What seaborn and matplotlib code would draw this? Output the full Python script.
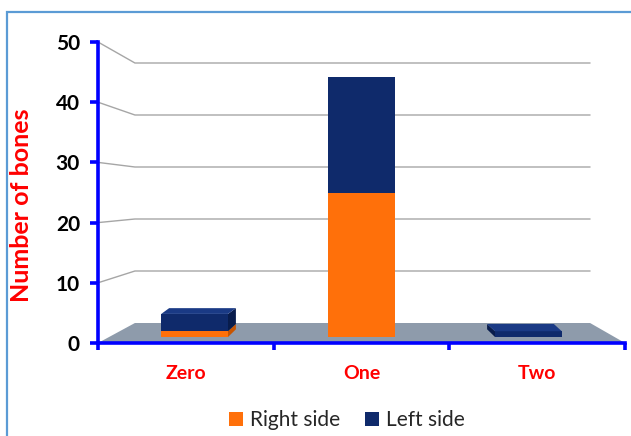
import matplotlib
matplotlib.use("Agg")
import matplotlib.pyplot as plt
from matplotlib.patches import Polygon, Rectangle, Patch
import pandas as pd
import seaborn as sns

# ---- data ----
categories = ["Zero", "One", "Two"]
right_side = [1, 25, 0]
left_side = [3, 20, 1]
series_names = ["Right side", "Left side"]
y_ticks = [0, 10, 20, 30, 40, 50]

ORANGE = "#FF700A"
ORANGE_DARK = "#C85400"
NAVY = "#0F2A6B"
NAVY_TOP = "#1A3A85"
NAVY_DARK = "#081C4C"
FLOOR = "#8E9BAB"
GRID = "#A6A6A6"
AXIS_BLUE = "#0000FF"
RED = "#FF0000"

sns.set_theme(style="white")
plt.rcParams["font.family"] = ["Lato", "DejaVu Sans"]

W, H = 631, 436
fig = plt.figure(figsize=(W / 100, H / 100), dpi=100)
fig.patch.set_facecolor("white")

# axes rectangle (front plane of the 3-D box)
left_px, right_px, top_px, bottom_px = 98, 625, 42, 343
rect = [left_px / W, (H - bottom_px) / H, (right_px - left_px) / W, (bottom_px - top_px) / H]

ax = fig.add_axes(rect)
ax.set_facecolor("none")
ax.set_xlim(-0.5, 2.5)
ax.set_ylim(0, 50)

# back wall: the gridlines sit deeper, so they are compressed and raised
px_per_unit_front = (bottom_px - top_px) / 50.0
back_floor_px, back_px_per_unit = 20.0, 5.2
x_back_left = -0.5 + (135 - left_px) / 176.0
x_back_right = -0.5 + (591 - left_px) / 176.0


def back_value(v):
    return (back_floor_px + back_px_per_unit * v) / px_per_unit_front


# floor
floor = Polygon([(-0.5, 0), (x_back_left, back_value(0)), (x_back_right, back_value(0)), (2.5, 0)],
                closed=True, facecolor=FLOOR, edgecolor="none", zorder=1)
ax.add_patch(floor)

for v in y_ticks[1:]:
    vb = back_value(v)
    ax.plot([-0.5, x_back_left, x_back_right], [v, vb, vb], color=GRID, lw=1.0, zorder=0.5)

# axis styling
for s in ["top", "right"]:
    ax.spines[s].set_visible(False)
for s in ["left", "bottom"]:
    ax.spines[s].set_color(AXIS_BLUE)
    ax.spines[s].set_linewidth(2.6)
    ax.spines[s].set_zorder(5)

ax.set_yticks(y_ticks)
ax.set_yticklabels([str(t) for t in y_ticks], fontweight="bold", fontsize=15, color="black")
ax.tick_params(axis="y", direction="out", length=6, width=2.6, color=AXIS_BLUE, pad=7, left=True)

ax.set_xticks([-0.5, 0.5, 1.5, 2.5])
ax.set_xticklabels([])
ax.set_xticks([0, 1, 2], minor=True)
ax.set_xticklabels(categories, minor=True, fontweight="bold", fontsize=14, color=RED)
ax.tick_params(axis="x", which="major", direction="out", length=5, width=2.6, color=AXIS_BLUE, bottom=True)
ax.tick_params(axis="x", which="minor", length=0, pad=16, bottom=True)
ax.grid(False)

ax.set_ylabel("Number of bones", color=RED, fontweight="bold", fontsize=18)
ax.yaxis.set_label_coords(-0.123, 0.458)

# ---- bars, on the plane a little behind the front axis ----
# columns sit deeper than the front axis, so they are pulled toward the centre
bar_base_px = 6.0
bar_px_per_unit = 5.77
depth_pull = 0.05
axb = fig.add_axes(rect, facecolor="none")
df = pd.DataFrame({"category": categories, "right": right_side, "left": left_side})
df["total"] = df["right"] + df["left"]
df["pos"] = [i + (1 - i) * depth_pull for i in range(len(categories))]
native_w = df["pos"].diff().min()
bar_w = 0.38

sns.barplot(data=df, x="pos", y="right", native_scale=True, color=ORANGE,
            width=bar_w / native_w, linewidth=0, saturation=1, ax=axb, zorder=3)
sns.barplot(data=df, x="pos", y="left", native_scale=True, color=NAVY,
            width=bar_w / native_w, linewidth=0, saturation=1, bottom=df["right"].tolist(),
            ax=axb, zorder=3)

axb.set_xlim(-0.5, 2.5)
axb.set_ylim(-bar_base_px / bar_px_per_unit, (bottom_px - top_px - bar_base_px) / bar_px_per_unit)
axb.axis("off")

# depth faces of the columns (visible only below eye level / off-centre)
half_w = bar_w / 2
eye_level, k = 16.0, 1.0 / 12.0
for i in range(len(categories)):
    r = df.loc[i, "right"]
    t = df.loc[i, "total"]
    c = df.loc[i, "pos"]
    dx = (1 - i) * 0.045
    dy_top = k * (eye_level - t)
    x0, x1 = c - half_w, c + half_w
    # side face
    if dx != 0:
        xs = x1 if dx > 0 else x0
        segs = [(0, r, ORANGE_DARK), (r, t, NAVY_DARK)]
        for lo, hi, col in segs:
            if hi <= lo:
                continue
            dlo = k * (eye_level - lo)
            dhi = k * (eye_level - hi)
            axb.add_patch(Polygon([(xs, lo), (xs, hi), (xs + dx, hi + dhi), (xs + dx, lo + dlo)],
                                  closed=True, facecolor=col, edgecolor="none", zorder=2.5))
    # top face
    if dy_top > 0:
        top_col = NAVY_TOP if df.loc[i, "left"] > 0 else ORANGE
        axb.add_patch(Polygon([(x0, t), (x1, t), (x1 + dx, t + dy_top), (x0 + dx, t + dy_top)],
                              closed=True, facecolor=top_col, edgecolor="none", zorder=3.5))

# legend
handles = [Patch(facecolor=ORANGE, edgecolor="none"), Patch(facecolor=NAVY, edgecolor="none")]
fig.legend(handles, series_names, loc="center", bbox_to_anchor=(347 / W, 1 - 420 / H),
           ncol=2, frameon=False, fontsize=15, handlelength=0.65, handleheight=0.65,
           handletextpad=0.35, columnspacing=1.2)

# chart frame
fig.add_artist(Rectangle((7 / W, -0.05), 1.0, 1 - 12 / H + 0.05, transform=fig.transFigure,
                         fill=False, edgecolor="#5B9BD5", lw=1.6))

fig.savefig("out.png", dpi=100)
